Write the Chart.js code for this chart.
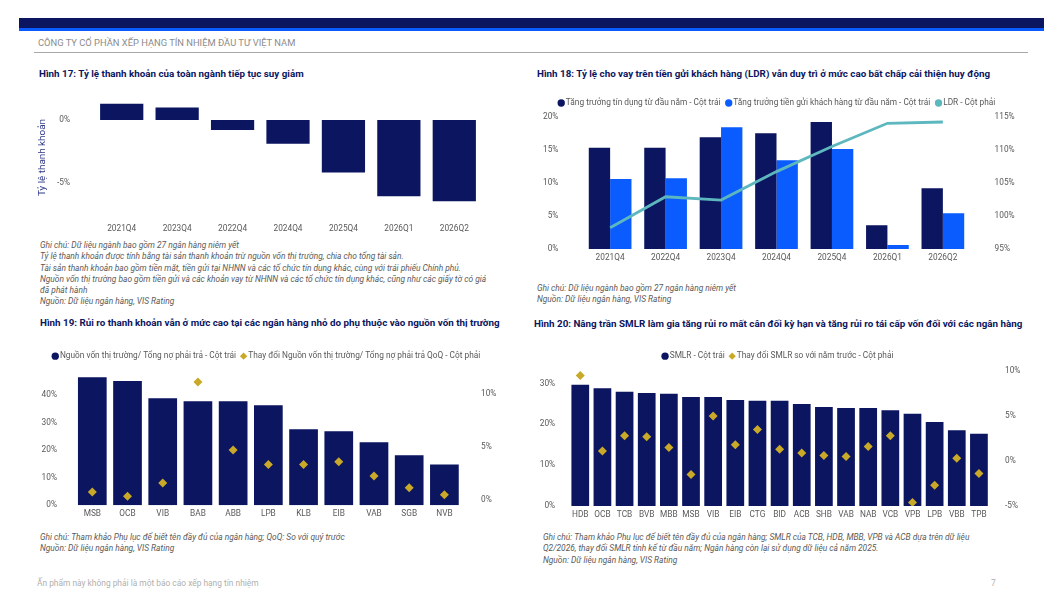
<!DOCTYPE html>
<html><head><meta charset="utf-8">
<script src="https://cdn.jsdelivr.net/npm/chart.js@4.4.1/dist/chart.umd.min.js"></script>
<style>
html,body{margin:0;padding:0;}
body{width:1063px;height:607px;background:#fff;position:relative;overflow:hidden;font-family:Roboto,"Noto Sans",sans-serif;}
.abs{position:absolute;}
.band1{left:19px;top:18px;width:1025px;height:10px;background:#0b1560;}
.band2{left:19px;top:28px;width:1025px;height:3px;background:#0a5cff;}
.hdr{left:38px;top:37px;font-size:9.35px;color:#8c8c8c;white-space:nowrap;line-height:12px;}
.hline{left:34px;top:52px;width:994px;height:1px;background:#a8a8a8;}
.ttl{font-weight:bold;font-size:9.8px;color:#0b1560;white-space:nowrap;line-height:12px;}
.note{font-style:italic;font-size:8.4px;color:#5a5a5a;line-height:11.3px;white-space:nowrap;}
.foot{font-size:8.4px;color:#b0b0b0;white-space:nowrap;line-height:12px;}
canvas{position:absolute;}
</style>
</head><body>
<div class="abs band1"></div><div class="abs band2"></div>
<div class="abs hdr">CÔNG TY CỔ PHẦN XẾP HẠNG TÍN NHIỆM ĐẦU TƯ VIỆT NAM</div>
<div class="abs hline"></div>

<div class="abs ttl" style="left:39px;top:68px;">Hình 17: Tỷ lệ thanh khoản của toàn ngành tiếp tục suy giảm</div>
<div class="abs ttl" style="left:537px;top:68px;">Hình 18: Tỷ lệ cho vay trên tiền gửi khách hàng (LDR) vẫn duy trì ở mức cao bất chấp cải thiện huy động</div>
<div class="abs ttl" style="left:40px;top:317px;">Hình 19: Rủi ro thanh khoản vẫn ở mức cao tại các ngân hàng nhỏ do phụ thuộc vào nguồn vốn thị trường</div>
<div class="abs ttl" style="left:534px;top:318px;">Hình 20: Nâng trần SMLR làm gia tăng rủi ro mất cân đối kỳ hạn và tăng rủi ro tái cấp vốn đối với các ngân hàng</div>

<canvas id="c17" width="453" height="152" style="left:37px;top:88px;"></canvas>
<canvas id="c18" width="508" height="179" style="left:524px;top:91px;"></canvas>
<canvas id="c19" width="475" height="180" style="left:30px;top:345px;"></canvas>
<canvas id="c20" width="498" height="181" style="left:530px;top:345px;"></canvas>

<div class="abs note" style="left:40px;top:240px;">Ghi chú: Dữ liệu ngành bao gồm 27 ngân hàng niêm yết<br>Tỷ lệ thanh khoản được tính bằng tài sản thanh khoản trừ nguồn vốn thị trường, chia cho tổng tài sản.<br>Tài sản thanh khoản bao gồm tiền mặt, tiền gửi tại NHNN và các tổ chức tín dụng khác, cùng với trái phiếu Chính phủ.<br>Nguồn vốn thị trường bao gồm tiền gửi và các khoản vay từ NHNN và các tổ chức tín dụng khác, cũng như các giấy tờ có giá<br>đã phát hành<br>Nguồn: Dữ liệu ngân hàng, VIS Rating</div>
<div class="abs note" style="left:537px;top:283px;">Ghi chú: Dữ liệu ngành bao gồm 27 ngân hàng niêm yết<br>Nguồn: Dữ liệu ngân hàng, VIS Rating</div>
<div class="abs note" style="left:40px;top:532px;">Ghi chú: Tham khảo Phụ lục để biết tên đầy đủ của ngân hàng; QoQ: So với quý trước<br>Nguồn: Dữ liệu ngân hàng, VIS Rating</div>
<div class="abs note" style="left:543px;top:532px;">Ghi chú: Tham khảo Phụ lục để biết tên đầy đủ của ngân hàng; SMLR của TCB, HDB, MBB, VPB và ACB dựa trên dữ liệu<br>Q2/2026, thay đổi SMLR tính kể từ đầu năm; Ngân hàng còn lại sử dụng dữ liệu cả năm 2025.<br>Nguồn: Dữ liệu ngân hàng, VIS Rating</div>

<div class="abs foot" style="left:37px;top:577px;">Ấn phẩm này không phải là một báo cáo xếp hạng tín nhiệm</div>
<div class="abs foot" style="left:991px;top:577px;">7</div>

<script>
// ---------- DATA ----------
const fig17Labels = ['2021Q4','2023Q4','2022Q4','2024Q4','2025Q4','2026Q1','2026Q2'];
const fig17Liquidity = [1.3, 1.0, -0.8, -1.9, -4.2, -6.1, -6.5];

const fig18Labels = ['2021Q4','2022Q4','2023Q4','2024Q4','2025Q4','2026Q1','2026Q2'];
const fig18CreditGrowth = [15.3, 15.3, 16.9, 17.5, 19.2, 3.6, 9.2];
const fig18DepositGrowth = [10.6, 10.7, 18.4, 13.4, 15.1, 0.6, 5.4];
const fig18LDR = [98.2, 102.9, 102.4, 106.7, 110.5, 114.0, 114.2];
const fig18SeriesNames = ['Tăng trưởng tín dụng từ đầu năm - Cột trái','Tăng trưởng tiền gửi khách hàng từ đầu năm - Cột trái','LDR - Cột phải'];

const fig19Banks = ['MSB','OCB','VIB','BAB','ABB','LPB','KLB','EIB','VAB','SGB','NVB'];
const fig19MarketFunding = [46.4, 45.0, 38.8, 37.7, 37.7, 36.2, 27.5, 26.8, 22.8, 18.1, 14.8];
const fig19QoQChange = [0.75, 0.35, 1.6, 11.1, 4.7, 3.35, 3.35, 3.6, 2.25, 1.15, 0.5];
const fig19SeriesNames = ['Nguồn vốn thị trường/ Tổng nợ phải trả - Cột trái','Thay đổi Nguồn vốn thị trường/ Tổng nợ phải trả QoQ - Cột phải'];

const fig20Banks = ['HDB','OCB','TCB','BVB','MBB','MSB','VIB','EIB','CTG','BID','ACB','SHB','VAB','NAB','VCB','VPB','LPB','VBB','TPB'];
const fig20SMLR = [29.7, 28.9, 28.0, 27.7, 27.5, 26.7, 26.7, 26.0, 25.8, 25.8, 25.0, 24.3, 24.0, 24.0, 23.5, 22.6, 20.6, 18.6, 17.7];
const fig20Change = [9.5, 1.1, 2.8, 2.7, 1.5, -1.5, 5.0, 1.8, 3.5, 1.3, 0.9, 0.6, 0.5, 1.6, 2.8, -4.6, -2.7, 0.3, -1.4];
const fig20SeriesNames = ['SMLR - Cột trái','Thay đổi SMLR so với năm trước - Cột phải'];

// ---------- STYLE ----------
const NAVY = '#0b1560', BLUE = '#0a5cff', TEAL = '#5db7bf', GOLD = '#c9a927', TICK = '#595959';
const FONT = 'Roboto';
const FS = 8.3;
Chart.defaults.font.family = FONT;
Chart.defaults.animation = false;
const pct = v => v + '%';
const tickFont = {size: FS, family: FONT};
const legendFor = pad => ({
  display: true, position: 'top',
  labels: {usePointStyle: true, boxWidth: 1, boxHeight: 5.2, padding: pad, color: TICK, font: {size: FS, family: FONT},
           sort: (a, b) => a.datasetIndex - b.datasetIndex,
           generateLabels: chart => Chart.defaults.plugins.legend.labels.generateLabels(chart)
             .map(l => Object.assign(l, {lineWidth: 0, strokeStyle: 'rgba(0,0,0,0)'}))}
});
// fixed legend band height (space between legend row and plot)
const legendBand = h => ({id: 'legendBand', beforeInit(chart) {
  const lg = chart.legend; const orig = lg.fit;
  lg.fit = function () { orig.call(this); this.height = h; };
}});
const fixW = w => (s) => { s.width = w; };
const fixH = h => (s) => { s.height = h; };
const keep = vals => (s) => { s.ticks = vals.map(v => ({value: v})); };
const noGrid = tl => ({display: false, drawTicks: true, tickLength: tl});
const xAxis = (h) => ({grid: noGrid(4), border: {display: false},
  ticks: {color: TICK, font: tickFont, padding: 0, maxRotation: 0, autoSkip: false}, afterFit: fixH(h)});
const yAxis = (pos, w, tl, extra) => Object.assign({position: pos, grid: noGrid(tl), border: {display: false},
  ticks: {color: TICK, font: tickFont, padding: 0, callback: pct}, afterFit: fixW(w)}, extra);

// ---------- Hình 17 ----------
new Chart(document.getElementById('c17'), {
  type: 'bar',
  data: {labels: fig17Labels, datasets: [{data: fig17Liquidity, backgroundColor: NAVY, categoryPercentage: 0.78, barPercentage: 1}]},
  options: {
    responsive: false, layout: {padding: {top: 7, right: 8, left: 0, bottom: 0}},
    plugins: {legend: {display: false}, tooltip: {enabled: false}},
    scales: {
      x: xAxis(20),
      y: yAxis('left', 57, 24, {min: -8, max: 2, afterBuildTicks: keep([-5, 0]),
          title: {display: true, text: 'Tỷ lệ thanh khoản', color: '#2f3a88', font: {size: 9.9, family: FONT}, padding: 0}})
    }
  }
});

// ---------- Hình 18 ----------
new Chart(document.getElementById('c18'), {
  type: 'bar',
  data: {labels: fig18Labels, datasets: [
    {label: fig18SeriesNames[0], data: fig18CreditGrowth, backgroundColor: NAVY, categoryPercentage: 0.77, barPercentage: 1, yAxisID: 'y', order: 1},
    {label: fig18SeriesNames[1], data: fig18DepositGrowth, backgroundColor: BLUE, categoryPercentage: 0.77, barPercentage: 1, yAxisID: 'y', order: 1},
    {type: 'line', label: fig18SeriesNames[2], data: fig18LDR, borderColor: TEAL, backgroundColor: TEAL, borderWidth: 2.8, pointRadius: 0, tension: 0, yAxisID: 'y1', order: 0}
  ]},
  options: {
    responsive: false, layout: {padding: 0},
    plugins: {legend: legendFor(7.8), tooltip: {enabled: false}},
    scales: {
      x: xAxis(21),
      y: yAxis('left', 58.4, 24, {min: 0, max: 20, ticks: {stepSize: 5, color: TICK, font: tickFont, padding: 0, callback: pct}}),
      y1: yAxis('right', 61.4, 24, {min: 95, max: 115, ticks: {stepSize: 5, color: TICK, font: tickFont, padding: 0, callback: pct}})
    }
  },
  plugins: [legendBand(25.7)]
});

// ---------- Hình 19 ----------
new Chart(document.getElementById('c19'), {
  type: 'bar',
  data: {labels: fig19Banks, datasets: [
    {label: fig19SeriesNames[0], data: fig19MarketFunding, backgroundColor: NAVY, categoryPercentage: 0.815, barPercentage: 1, yAxisID: 'y', order: 1},
    {type: 'line', label: fig19SeriesNames[1], data: fig19QoQChange, showLine: false, pointStyle: 'rectRot', pointRadius: 4.5, pointBorderWidth: 0,
     backgroundColor: GOLD, borderColor: GOLD, yAxisID: 'y1', order: 0}
  ]},
  options: {
    responsive: false, layout: {padding: 0},
    plugins: {legend: legendFor(7), tooltip: {enabled: false}},
    scales: {
      x: xAxis(19.7),
      y: yAxis('left', 44.7, 17.7, {min: 0, max: 50, afterBuildTicks: keep([0, 10, 20, 30, 40])}),
      y1: yAxis('right', 43, 19, {min: -0.5, max: 12.5, afterBuildTicks: keep([0, 5, 10])})
    }
  },
  plugins: [legendBand(22.2)]
});

// ---------- Hình 20 ----------
new Chart(document.getElementById('c20'), {
  type: 'bar',
  data: {labels: fig20Banks, datasets: [
    {label: fig20SeriesNames[0], data: fig20SMLR, backgroundColor: NAVY, categoryPercentage: 0.8, barPercentage: 1, yAxisID: 'y', order: 1},
    {type: 'line', label: fig20SeriesNames[1], data: fig20Change, showLine: false, pointStyle: 'rectRot', pointRadius: 4.5, pointBorderWidth: 0,
     backgroundColor: GOLD, borderColor: GOLD, yAxisID: 'y1', order: 0}
  ]},
  options: {
    responsive: false, layout: {padding: 0},
    plugins: {legend: legendFor(7), tooltip: {enabled: false}},
    scales: {
      x: xAxis(20),
      y: yAxis('left', 39.2, 14, {min: 0, max: 33.1, afterBuildTicks: keep([0, 10, 20, 30])}),
      y1: yAxis('right', 38, 15, {min: -5, max: 10, afterBuildTicks: keep([-5, 0, 5, 10])})
    }
  },
  plugins: [legendBand(26)]
});
</script>
</body></html>
